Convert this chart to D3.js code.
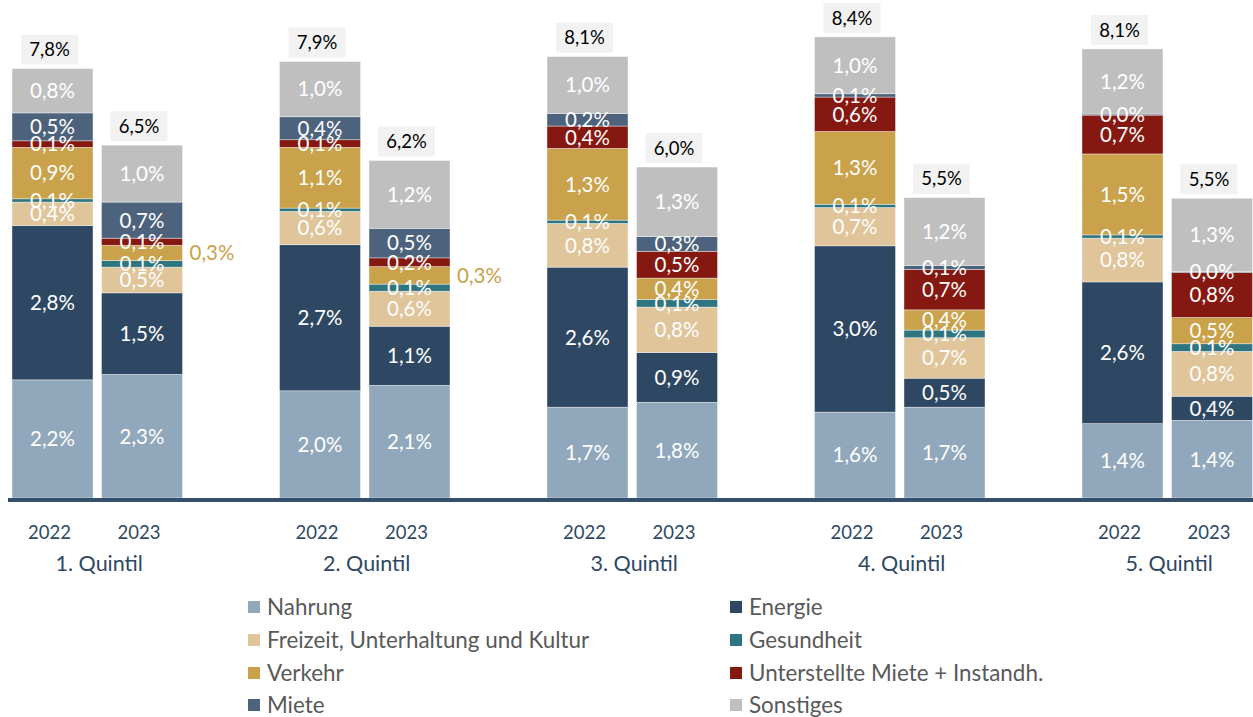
<!DOCTYPE html>
<html><head><meta charset="utf-8">
<script src="https://cdn.jsdelivr.net/npm/d3@7"></script>
<style>
html,body{margin:0;padding:0;background:#fff;}
svg{display:block;font-family:Lato, "Open Sans", sans-serif;}
</style></head>
<body><svg id="chart" width="1253" height="717"></svg>
<script>
const quintiles = ["1. Quintil","2. Quintil","3. Quintil","4. Quintil","5. Quintil"];
const years = ["2022","2023"];
const seriesNames = ["Nahrung","Energie","Freizeit, Unterhaltung und Kultur","Gesundheit","Verkehr","Unterstellte Miete + Instandh.","Miete","Sonstiges"];
const seriesColors = ["#91a7bc","#2e4863","#e0c49a","#2f7580","#c9a24b","#861812","#4d637d","#bfbfbf"];
// values per bar: Q1-2022, Q1-2023, Q2-2022, Q2-2023, ... Q5-2023
const nahrung    = [2.16,2.26, 1.96,2.06, 1.66,1.75, 1.57,1.66, 1.36,1.42];
const energie    = [2.82,1.49, 2.67,1.08, 2.56,0.91, 3.04,0.53, 2.59,0.44];
const freizeit   = [0.43,0.47, 0.61,0.64, 0.80,0.83, 0.70,0.74, 0.80,0.82];
const gesundheit = [0.06,0.12, 0.06,0.13, 0.06,0.14, 0.06,0.14, 0.06,0.14];
const verkehr    = [0.94,0.28, 1.11,0.32, 1.31,0.39, 1.33,0.37, 1.48,0.48];
const untMiete   = [0.12,0.13, 0.14,0.16, 0.41,0.49, 0.63,0.74, 0.71,0.82];
const miete      = [0.51,0.66, 0.42,0.54, 0.23,0.27, 0.06,0.07, 0.02,0.02];
const sonstiges  = [0.81,1.04, 1.01,1.24, 1.04,1.27, 1.04,1.24, 1.19,1.34];
const totals     = [7.8,6.5, 7.9,6.2, 8.1,6.0, 8.4,5.5, 8.1,5.5];

const seriesValues = [nahrung, energie, freizeit, gesundheit, verkehr, untMiete, miete, sonstiges];

const rows = [];
quintiles.forEach((q, qi) => years.forEach((y, yi) => {
  const idx = qi * 2 + yi;
  const r = {q, y, idx, total: totals[idx]};
  seriesNames.forEach((s, si) => r[s] = seriesValues[si][idx]);
  rows.push(r);
}));

const svg = d3.select("#chart");
const x0 = d3.scaleBand().domain(quintiles).range([12, 1252.5]).paddingInner(0.3626).paddingOuter(0);
const x1 = d3.scaleBand().domain(years).range([0, x0.bandwidth()]).paddingInner(0.095).paddingOuter(0);
const yS = d3.scaleLinear().domain([0, 9]).range([498, 498 - 9 * 54.7]);
const color = d3.scaleOrdinal().domain(seriesNames).range(seriesColors);
const fmt = v => d3.format(".1f")(v).replace(".", ",") + "%";

const stacked = d3.stack().keys(seriesNames)(rows);
const barX = d => x0(d.data.q) + x1(d.data.y);

const layers = svg.append("g").selectAll("g").data(stacked).join("g")
  .attr("fill", d => color(d.key));
layers.selectAll("rect").data(d => d.map(p => Object.assign(p, {key: d.key}))).join("rect")
  .attr("x", barX)
  .attr("width", x1.bandwidth())
  .attr("y", d => yS(d[1]))
  .attr("height", d => yS(d[0]) - yS(d[1]))
  .attr("stroke", "#ffffff").attr("stroke-width", 0.7).attr("stroke-opacity", 0.55);

// segment labels
const labG = svg.append("g").attr("font-size", 20.5);
stacked.forEach(layer => {
  layer.forEach(p => {
    const v = p.data[layer.key];
    const outside = layer.key === "Verkehr" && v < 0.35;
    const cy = (yS(p[0]) + yS(p[1])) / 2;
    labG.append("text")
      .attr("x", outside ? barX(p) + x1.bandwidth() + 7 : barX(p) + x1.bandwidth() / 2)
      .attr("y", cy)
      .attr("dy", "0.36em")
      .attr("text-anchor", outside ? "start" : "middle")
      .attr("fill", outside ? "#c9a24b" : "#ffffff")
      .text(fmt(v));
  });
});

// total labels
const totG = svg.append("g");
rows.forEach(r => {
  const top = yS(d3.sum(seriesNames, s => r[s]));
  const cx = x0(r.q) + x1(r.y) + x1.bandwidth() / 2 - 3;
  totG.append("rect").attr("x", cx - 28.5).attr("y", top - 34).attr("width", 57).attr("height", 30).attr("fill", "#f2f2f2");
  totG.append("text").attr("x", cx).attr("y", top - 19).attr("dy", "0.36em")
    .attr("text-anchor", "middle").attr("font-size", 18.5).attr("fill", "#000").text(fmt(r.total));
});

// axis line
svg.append("line").attr("x1", 8).attr("x2", 1253).attr("y1", 500).attr("y2", 500)
  .attr("stroke", "#34506c").attr("stroke-width", 4);

// year labels and group labels
const axG = svg.append("g").attr("fill", "#2e4863");
quintiles.forEach(q => {
  years.forEach(y => {
    axG.append("text").attr("x", x0(q) + x1(y) + x1.bandwidth() / 2 - 3).attr("y", 538.5)
      .attr("text-anchor", "middle").attr("font-size", 18.5).text(y);
  });
  axG.append("text").attr("x", x0(q) + x0.bandwidth() / 2 + 2).attr("y", 571)
    .attr("text-anchor", "middle").attr("font-size", 21.5).text(q);
});

// legend
const legPos = [[248,607],[730,607],[248,640],[730,640],[248,673],[730,673],[248,705],[730,705]];
const legG = svg.append("g");
seriesNames.forEach((s, i) => {
  const [lx, ly] = legPos[i];
  legG.append("rect").attr("x", lx).attr("y", ly - 6).attr("width", 12).attr("height", 12).attr("fill", color(s));
  legG.append("text").attr("x", lx + 19).attr("y", ly).attr("dy", "0.36em")
    .attr("font-size", 22.4).attr("fill", "#595959").text(s);
});
</script></body></html>
